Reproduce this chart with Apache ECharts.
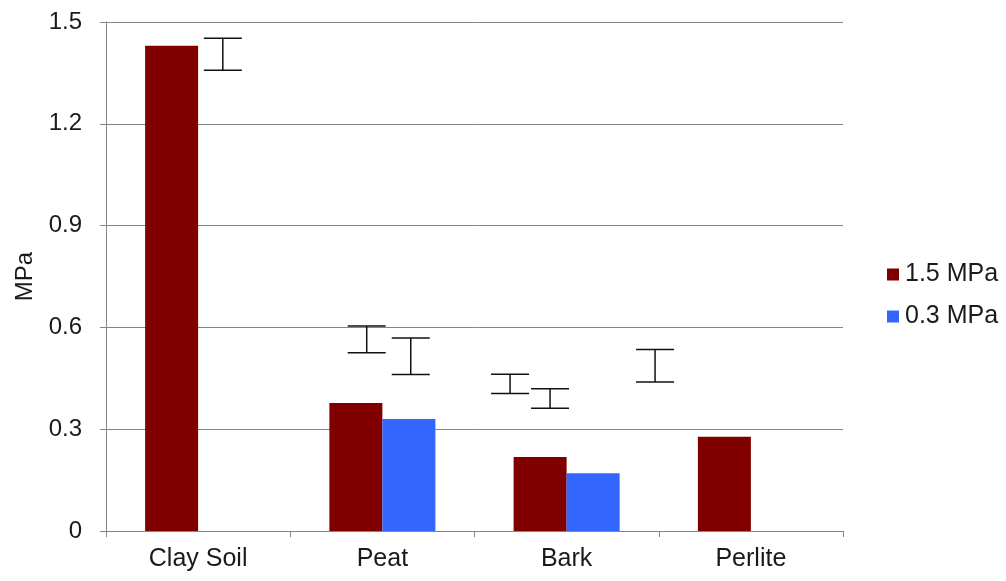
<!DOCTYPE html>
<html>
<head>
<meta charset="utf-8">
<script src="https://cdn.jsdelivr.net/npm/echarts@6/dist/echarts.min.js"></script>
<style>
html,body{margin:0;padding:0;background:#fff;}
#chart{width:1006px;height:581px;}
</style>
</head>
<body>
<div id="chart"></div>
<script>
var categories = ['Clay Soil', 'Peat', 'Bark', 'Perlite'];
var seriesNames = ['1.5 MPa', '0.3 MPa'];
var values15 = [1.43, 0.377, 0.218, 0.278];
var values03 = [null, 0.330, 0.170, null];
// error bars: [x position in category units, low, high]
var errorBars = [
  [0.134, 1.358, 1.452],
  [0.915, 0.525, 0.604],
  [1.154, 0.461, 0.569],
  [1.693, 0.405, 0.462],
  [1.910, 0.362, 0.419],
  [2.480, 0.439, 0.535]
];
var yTicks = [0, 0.3, 0.6, 0.9, 1.2, 1.5];

var FONT = 'Liberation Sans, Arial, sans-serif';
var chart = echarts.init(document.getElementById('chart'), null, {renderer: 'canvas'});
chart.setOption({
  animation: false,
  backgroundColor: '#ffffff',
  grid: {left: 106, right: 163, top: 22, bottom: 50, containLabel: false},
  legend: {
    orient: 'vertical',
    left: 882, top: 257,
    itemWidth: 12, itemHeight: 12, itemGap: 17,
    icon: 'rect',
    textStyle: {fontFamily: FONT, fontSize: 25, color: '#1a1a1a', padding: [0,0,0,1]},
    data: seriesNames
  },
  xAxis: [{
    type: 'category',
    data: categories,
    axisLine: {lineStyle: {color: '#868686', width: 1}},
    axisTick: {show: true, length: 6, lineStyle: {color: '#868686'}},
    axisLabel: {fontFamily: FONT, fontSize: 25, color: '#1a1a1a', margin: 16}
  }, {
    type: 'value', min: -0.5, max: 3.5, show: false
  }],
  yAxis: {
    type: 'value', min: 0, max: 1.5, interval: 0.3,
    name: 'MPa', nameLocation: 'middle', nameGap: 66, nameRotate: 90,
    nameTextStyle: {fontFamily: FONT, fontSize: 24, color: '#1a1a1a'},
    axisLine: {show: true, onZero: false, lineStyle: {color: '#868686', width: 1}},
    axisTick: {show: true, length: 6, lineStyle: {color: '#868686'}},
    axisLabel: {fontFamily: FONT, fontSize: 24, color: '#1a1a1a', margin: 24,
      formatter: function (v) { return yTicks.indexOf(+v.toFixed(1)) >= 0 ? (v === 0 ? '0' : v.toFixed(1)) : ''; }},
    splitLine: {show: true, lineStyle: {color: '#868686', width: 1}}
  },
  series: [{
    name: seriesNames[0], type: 'bar', data: values15,
    barWidth: 53, barGap: '0%',
    itemStyle: {color: '#800000'}
  }, {
    name: seriesNames[1], type: 'bar', data: values03,
    barWidth: 53, barGap: '0%',
    itemStyle: {color: '#3366ff'}
  }, {
    type: 'custom', xAxisIndex: 1, data: errorBars,
    silent: true, z: 5,
    renderItem: function (params, api) {
      var x = api.value(0), lo = api.value(1), hi = api.value(2);
      var pHi = api.coord([x, hi]);
      var pLo = api.coord([x, lo]);
      var hw = 19;
      var st = {stroke: '#111111', lineWidth: 1.5};
      return {type: 'group', children: [
        {type: 'line', shape: {x1: pHi[0], y1: pHi[1], x2: pLo[0], y2: pLo[1]}, style: st},
        {type: 'line', shape: {x1: pHi[0]-hw, y1: pHi[1], x2: pHi[0]+hw, y2: pHi[1]}, style: st},
        {type: 'line', shape: {x1: pLo[0]-hw, y1: pLo[1], x2: pLo[0]+hw, y2: pLo[1]}, style: st}
      ]};
    }
  }]
});
</script>
</body>
</html>
